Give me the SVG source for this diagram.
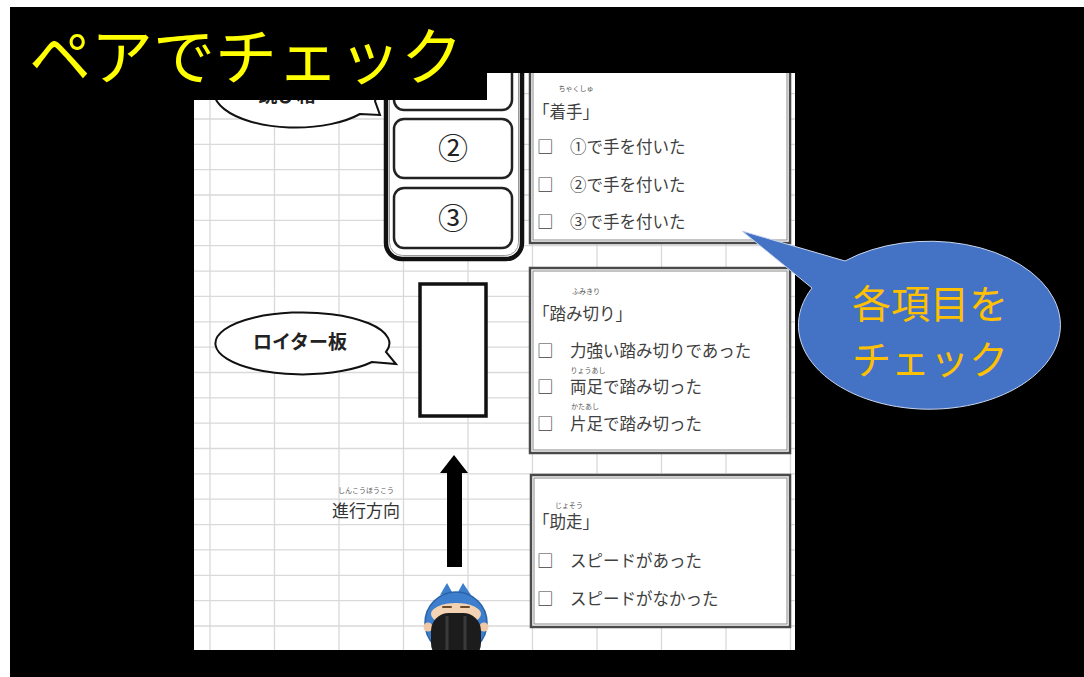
<svg xmlns="http://www.w3.org/2000/svg" width="1084" height="677" viewBox="0 0 1084 677">
  <style>
    .jp { font-family: "Noto Sans CJK JP", "Noto Sans", sans-serif; }
    .item { font-size: 16.5px; fill: #404040; }
    .ruby { font-size: 7px; fill: #555; text-anchor: middle; }
    .grid { stroke: #d9d9d9; stroke-width: 1.3; fill: none; }
    .bubble { fill: #fff; stroke: #111; stroke-width: 2; }
    .slot { fill: #fff; stroke: #222; stroke-width: 2.5; }
    .panel-out { fill: #fff; stroke: #4a4a4a; stroke-width: 2.5; }
    .panel-in { fill: none; stroke: #8a8a8a; stroke-width: 1; }
  </style>
  <defs>
    <clipPath id="sheetClip">
      <rect x="194" y="73" width="601" height="577"/>
    </clipPath>
    <!-- only the part of the label below the title banner -->
    <clipPath id="belowBanner">
      <rect x="194" y="100" width="300" height="40"/>
    </clipPath>
  </defs>

  <!-- backdrop -->
  <rect x="0" y="0" width="1084" height="677" fill="#fff"/>
  <rect x="10" y="7" width="1074" height="670" fill="#000"/>

  <!-- spreadsheet area -->
  <g id="sheet" clip-path="url(#sheetClip)">
    <rect x="194" y="73" width="601" height="577" fill="#fff"/>
    <path class="grid" d="M210 73V650M274.5 73V650M339 73V650M403.5 73V650M468 73V650M532.5 73V650M597 73V650M661.5 73V650M726 73V650M790.5 73V650
      M194 93.6H795M194 119H795M194 144.3H795M194 169.7H795M194 195H795M194 220.4H795M194 245.7H795M194 271.1H795M194 296.4H795M194 321.8H795
      M194 347.1H795M194 372.5H795M194 397.8H795M194 423.2H795M194 448.5H795M194 473.9H795M194 499.2H795M194 524.6H795M194 549.9H795M194 575.3H795
      M194 600.6H795M194 626H795"/>

    <!-- vaulting box callout -->
    <g id="box-label">
      <path class="bubble" d="M375 101 A82 36 0 1 0 360 114 L380 115 Z"/>
      <text class="jp" x="287" y="102" font-size="19" font-weight="700" fill="#222" text-anchor="middle" clip-path="url(#belowBanner)">跳び箱</text>
    </g>

    <!-- vaulting box with three hand positions -->
    <g id="vault-box">
      <rect x="386" y="30" width="136" height="229" rx="16" fill="#fff" stroke="#111" stroke-width="4.5"/>
      <rect x="389.5" y="33.5" width="129" height="222" rx="13" fill="none" stroke="#999" stroke-width="1"/>
      <rect class="slot" x="394" y="50" width="118" height="60" rx="10"/>
      <rect class="slot" x="394" y="119" width="118" height="59" rx="10"/>
      <rect class="slot" x="394" y="188" width="118" height="60" rx="10"/>
      <text class="jp" x="453" y="159" font-size="30" fill="#222" text-anchor="middle">②</text>
      <text class="jp" x="453" y="229" font-size="30" fill="#222" text-anchor="middle">③</text>
    </g>

    <!-- springboard -->
    <g id="springboard">
      <rect x="420" y="284" width="66" height="132" fill="#fff" stroke="#111" stroke-width="3.5"/>
    </g>
    <g id="springboard-label">
      <path class="bubble" d="M386 352 A87 31 0 1 0 372 362 L396 364 Z"/>
      <text class="jp" x="300" y="349" font-size="19" font-weight="700" fill="#222" text-anchor="middle">ロイター板</text>
    </g>

    <!-- direction of travel -->
    <g id="direction-label">
      <text class="jp ruby" x="366" y="493">しんこうほうこう</text>
      <text class="jp" x="332" y="517" font-size="17" fill="#333">進行方向</text>
    </g>

    <!-- runner -->
    <g id="runner">
      <path d="M440 595 L447 583 L452 592 Z M458 592 L463 583 L471 595 Z" fill="#3d7fcc"/>
      <circle cx="456" cy="623" r="31" fill="#3d7fcc" stroke="#2a62a8" stroke-width="1.5"/>
      <circle cx="428" cy="627" r="4.5" fill="#f1c9a5"/>
      <circle cx="484" cy="627" r="4.5" fill="#f1c9a5"/>
      <ellipse cx="456" cy="614" rx="25" ry="11" fill="#f3d3b3"/>
      <path d="M443 607H451M461 607H469" stroke="#6b4a2a" stroke-width="2" stroke-linecap="round"/>
      <rect x="431" y="613" width="50" height="48" rx="18" fill="#1c1c1c"/>
      <path d="M447 616V650M465 616V650" stroke="#3a3a3a" stroke-width="3"/>
    </g>

    <!-- checklist panel: hand placement -->
    <g id="panel-hands">
      <rect class="panel-out" x="530" y="60" width="260" height="183"/>
      <rect class="panel-in" x="533" y="63" width="254" height="177"/>
      <text class="jp ruby" x="576" y="91">ちゃくしゅ</text>
      <text class="jp item" x="533" y="118">「着手」</text>
      <text class="jp item" x="537" y="153">□</text>
      <text class="jp item" x="570" y="153">①で手を付いた</text>
      <text class="jp item" x="537" y="191">□</text>
      <text class="jp item" x="570" y="191">②で手を付いた</text>
      <text class="jp item" x="537" y="228">□</text>
      <text class="jp item" x="570" y="228">③で手を付いた</text>
    </g>

    <!-- checklist panel: take-off -->
    <g id="panel-takeoff">
      <rect class="panel-out" x="530" y="268" width="260" height="185"/>
      <rect class="panel-in" x="533" y="271" width="254" height="179"/>
      <text class="jp ruby" x="586" y="294">ふみきり</text>
      <text class="jp item" x="533" y="320">「踏み切り」</text>
      <text class="jp item" x="537" y="357">□</text>
      <text class="jp item" x="570" y="357">力強い踏み切りであった</text>
      <text class="jp ruby" x="588" y="373">りょうあし</text>
      <text class="jp item" x="537" y="393">□</text>
      <text class="jp item" x="570" y="393">両足で踏み切った</text>
      <text class="jp ruby" x="585" y="409">かたあし</text>
      <text class="jp item" x="537" y="430">□</text>
      <text class="jp item" x="570" y="430">片足で踏み切った</text>
    </g>

    <!-- checklist panel: run-up -->
    <g id="panel-runup">
      <rect class="panel-out" x="531" y="475" width="259" height="152"/>
      <rect class="panel-in" x="534" y="478" width="253" height="146"/>
      <text class="jp ruby" x="569" y="508">じょそう</text>
      <text class="jp item" x="533" y="528">「助走」</text>
      <text class="jp item" x="537" y="567">□</text>
      <text class="jp item" x="570" y="567">スピードがあった</text>
      <text class="jp item" x="537" y="605">□</text>
      <text class="jp item" x="570" y="605">スピードがなかった</text>
    </g>
  </g>

  <!-- travel arrow -->
  <g id="connectors">
    <polygon points="454,455 468,473 462,473 462,567 447,567 447,473 440,473" fill="#000"/>
  </g>

  <!-- title banner -->
  <g id="title">
    <rect x="10" y="7" width="477" height="93" fill="#000"/>
    <text class="jp" x="29" y="80" font-size="62" fill="#ffff00">ペアでチェック</text>
  </g>

  <!-- blue speech callout -->
  <g id="check-callout">
    <path d="M845 261 A131 84 0 1 1 812 288 L742 231 Z" fill="#4472c4" stroke="#c9d6ee" stroke-width="1"/>
    <text class="jp" x="852" y="318" font-size="39" fill="#ffc000">各項目を</text>
    <text class="jp" x="852" y="374" font-size="39" fill="#ffc000">チェック</text>
  </g>
</svg>
